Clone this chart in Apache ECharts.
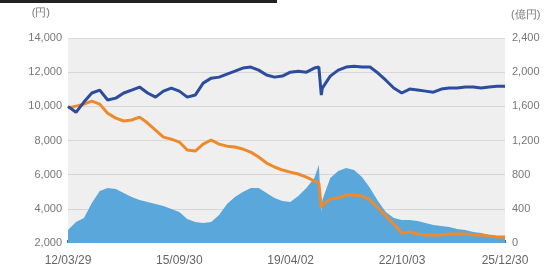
<!DOCTYPE html>
<html><head><meta charset="utf-8">
<script src="https://cdn.jsdelivr.net/npm/echarts@6/dist/echarts.min.js"></script>
<style>html,body{margin:0;padding:0;background:#fff}#c{width:550px;height:275px}</style>
</head><body><div id="c"></div>
<script>
var dates = ['2012-03-29','2012-06-29','2012-09-28','2012-12-28','2013-03-29','2013-06-28','2013-09-30','2013-12-30',
'2014-03-31','2014-06-30','2014-09-30','2014-12-30','2015-03-31','2015-06-30','2015-09-30','2015-12-30',
'2016-03-31','2016-06-30','2016-09-30','2016-12-30','2017-03-31','2017-06-30','2017-09-29','2017-12-29',
'2018-03-30','2018-06-29','2018-09-28','2018-12-28','2019-03-29','2019-06-28','2019-09-30','2019-12-30',
'2020-02-20','2020-03-19','2020-03-31','2020-06-30','2020-09-30','2020-12-30','2021-03-31','2021-06-30',
'2021-09-30','2021-12-30','2022-03-31','2022-06-30','2022-09-30','2022-12-30','2023-03-31','2023-06-30',
'2023-09-29','2023-12-29','2024-03-29','2024-06-28','2024-09-30','2024-12-30','2025-03-31','2025-06-30',
'2025-09-30','2025-12-30'];
var reinvested = [10000,9650,10250,10780,10950,10370,10480,10780,
10950,11130,10780,10540,10890,11070,10890,10540,
10660,11360,11650,11710,11890,12060,12240,12300,
12120,11830,11710,11770,12000,12060,12000,12240,
12300,10660,11070,11770,12120,12300,12350,12300,
12300,11950,11530,11070,10780,11010,10950,10890,
10830,11010,11070,11070,11130,11130,11070,11130,
11180,11180];
var nav = [9900,10010,10130,10300,10130,9600,9310,9140,
9200,9370,9020,8610,8200,8080,7910,7440,
7380,7790,8030,7790,7670,7620,7500,7320,
7030,6680,6450,6270,6150,6040,5860,5630,
5510,4050,4220,4570,4630,4810,4810,4750,
4520,4050,3580,3110,2590,2640,2530,2470,
2470,2470,2530,2530,2530,2470,2470,2410,
2350,2350];
var netAssets = [152,246,293,468,608,644,632,585,
538,503,480,456,433,398,363,281,
246,234,246,328,456,538,597,644,
644,585,527,491,480,550,644,760,
913,363,503,760,842,877,854,772,
644,491,363,293,269,269,257,234,
211,199,187,164,152,129,117,94,
82,70];
var tickDates = ['2012-03-29','2015-09-30','2019-04-02','2022-10-03','2025-12-30'];
var tickLabels = ['12/03/29','15/09/30','19/04/02','22/10/03','25/12/30'];
var leftName = '(円)', rightName = '(億円)';

function ts(d){ return Date.UTC(+d.slice(0,4), +d.slice(5,7)-1, +d.slice(8,10)); }
function zip(d, v){ return d.map(function(x,i){ return [ts(x), v[i]]; }); }
var tickTs = tickDates.map(ts);

var chart = echarts.init(document.getElementById('c'), null, {renderer:'canvas'});
var font = '"Liberation Sans", Arial, sans-serif';
chart.setOption({
  animation:false,
  graphic:[{type:'rect', left:0, top:0, shape:{width:277, height:3}, style:{fill:'#222'}}],
  grid:{left:68, right:45, top:38, bottom:32, show:true, backgroundColor:'#efefef', borderWidth:0},
  xAxis:{
    type:'value', min:tickTs[0], max:tickTs[tickTs.length-1],
    axisLine:{show:true, lineStyle:{color:'#ffffff', width:1}},
    axisTick:{show:true, inside:true, length:3, lineStyle:{color:'#1f3566', width:1.5}, customValues:tickTs},
    axisLabel:{color:'#666', fontSize:12, fontFamily:font, margin:12, customValues:tickTs,
      showMinLabel:true, showMaxLabel:true,
      formatter:function(v){ var i = tickTs.indexOf(+v); return i>=0 ? tickLabels[i] : ''; }},
    splitLine:{show:false}
  },
  yAxis:[{
    type:'value', min:2000, max:14000, interval:2000, position:'left',
    name:leftName, nameLocation:'end', nameGap:20,
    nameTextStyle:{color:'#777', fontSize:11, fontFamily:font, align:'right', padding:[0,18,0,0]},
    axisLine:{show:false}, axisTick:{show:false},
    axisLabel:{color:'#777', fontSize:11, fontFamily:font, margin:6,
      formatter:function(v){ return v.toLocaleString('en-US'); }},
    splitLine:{lineStyle:{color:'#d6d6d6', width:1}}
  },{
    type:'value', min:0, max:2400, interval:400, position:'right',
    name:rightName, nameLocation:'end', nameGap:18,
    nameTextStyle:{color:'#777', fontSize:11, fontFamily:font, align:'left', padding:[0,0,0,6]},
    axisLine:{show:false}, axisTick:{show:false},
    axisLabel:{color:'#777', fontSize:11, fontFamily:font, margin:7,
      formatter:function(v){ return v.toLocaleString('en-US'); }},
    splitLine:{show:false}
  }],
  series:[{
    name:'純資産総額', type:'line', yAxisIndex:1, data:zip(dates, netAssets),
    showSymbol:false, lineStyle:{width:0}, areaStyle:{color:'#5aa7db', opacity:1}, z:1
  },{
    name:'基準価額', type:'line', yAxisIndex:0, data:zip(dates, nav),
    showSymbol:false, lineStyle:{color:'#ee8a2b', width:3}, z:2
  },{
    name:'分配金再投資基準価額', type:'line', yAxisIndex:0, data:zip(dates, reinvested),
    showSymbol:false, lineStyle:{color:'#2c4d9e', width:3}, z:3
  }]
});
</script></body></html>
